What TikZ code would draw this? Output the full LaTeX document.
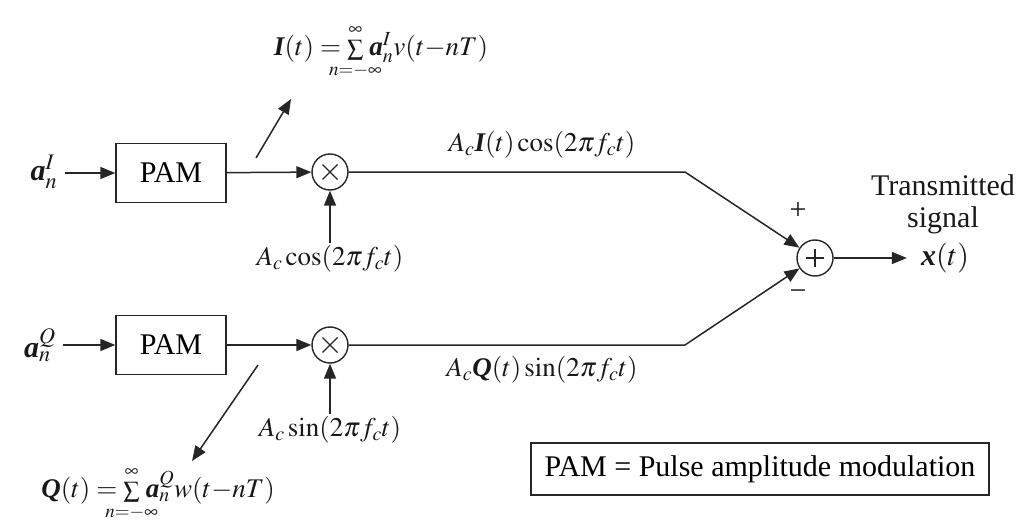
\documentclass[tikz,border=0pt]{standalone}
\usepackage{amsmath}
\usepackage{mathptmx}
\usepackage[no-math]{fontspec}
\setmainfont{Liberation Serif}
\usetikzlibrary{arrows.meta}
\newcommand{\bi}[1]{\mbox{\bfseries\itshape #1}}
\newcommand{\smallsum}{\mathop{\mbox{\fontsize{23}{24}\selectfont$\textstyle\sum$}}\limits}
\newcommand{\lowlim}{\makebox[0pt]{\fontsize{19}{20}\selectfont$n{=}{-}\infty$}}
\newcommand{\uplim}{\makebox[0pt]{\fontsize{19}{20}\selectfont$\infty$}}
\tikzset{
  ln/.style={line width=1.5pt, draw=black!85},
  arr/.style={ln, -{Triangle[length=15pt,width=12pt]}},
  block/.style={draw=black!85, line width=1.4pt, minimum width=110pt, minimum height=59pt, inner sep=0pt},
  mixer/.style={draw=black!85, line width=1.4pt, circle, minimum size=36pt, inner sep=0pt},
  timesmark/.style={path picture={\draw[line width=1.1pt,black!85] ([shift={(-7.5pt,-7.5pt)}]path picture bounding box.center) -- ([shift={(7.5pt,7.5pt)}]path picture bounding box.center);
    \draw[line width=1.1pt,black!85] ([shift={(-7.5pt,7.5pt)}]path picture bounding box.center) -- ([shift={(7.5pt,-7.5pt)}]path picture bounding box.center);}},
  plusmark/.style={path picture={\draw[line width=1.1pt,black!85] ([xshift=-9pt]path picture bounding box.center) -- ([xshift=9pt]path picture bounding box.center);
    \draw[line width=1.1pt,black!85] ([yshift=-9pt]path picture bounding box.center) -- ([yshift=9pt]path picture bounding box.center);}},
  lab/.style={inner sep=2pt, text=black!90},
  mlab/.style={lab, font=\fontsize{27}{30}\selectfont}
}
\begin{document}
\begin{tikzpicture}[x=1pt,y=-1pt,font=\fontsize{30}{36}\selectfont]
\useasboundingbox (0,0) rectangle (1021,527);
% upper branch
\node[lab] (aI) at (44,172) {$\bi{a}_n^{I}$};
\node[block] (pamI) at (171,173) {PAM};
\node[mixer,timesmark] (mI) at (330,172) {};
\node[mlab] (cosl) at (330,259) {$A_c\cos(2\pi f_c t)$};
\node[mlab] (fI) at (381,52) {$\bi{I}(t) = \smallsum_{\lowlim}^{\uplim}\, \bi{a}_n^{I} v(t\mathord{-}nT)$};
\coordinate (dI1) at (256,158);
\coordinate (dI2) at (291,99);
\coordinate (kI) at (685,172);
\node[mlab] (pI) at (542,145) {$A_c\bi{I}(t)\cos(2\pi f_c t)$};
% lower branch
\node[lab] (aQ) at (40,345) {$\bi{a}_n^{Q}$};
\node[block] (pamQ) at (171,345) {PAM};
\node[mixer,timesmark] (mQ) at (330,345) {};
\node[mlab] (sinl) at (330,430) {$A_c\sin(2\pi f_c t)$};
\node[mlab] (fQ) at (158,494) {$\bi{Q}(t) = \smallsum_{\lowlim}^{\uplim}\, \bi{a}_n^{Q} w(t\mathord{-}nT)$};
\coordinate (dQ1) at (258,365);
\coordinate (dQ2) at (192,461);
\coordinate (kQ) at (685,345);
\node[mlab] (pQ) at (542,370) {$A_c\bi{Q}(t)\sin(2\pi f_c t)$};
% summer
\node[mixer,plusmark] (sum) at (815,258) {};
\node[lab] at (798,211) {+};
\node[lab] at (798,295) {\textminus};
\node[lab,inner sep=0pt] (xt) at (945,258) {$\bi{x}(t)$};
\node[lab] (tr) at (943,185) {Transmitted};
\node[lab] (sg) at (943,220) {signal};
% legend
\node[draw=black!85, line width=1.2pt, minimum width=458pt, minimum height=52pt, inner sep=0pt] (leg) at (760,469) {PAM = Pulse amplitude modulation};
% connectors
\draw[arr, shorten <=5pt] (aI.east |- pamI.west) -- (pamI.west);
\draw[arr] (pamI) -- (mI);
\draw[arr] (cosl) -- (mI);
\draw[arr] (dI1) -- (dI2);
\draw[arr] (mI) -- (kI) -- (sum);
\draw[arr, shorten <=5pt] (aQ.east |- pamQ.west) -- (pamQ.west);
\draw[arr] (pamQ) -- (mQ);
\draw[arr] (sinl) -- (mQ);
\draw[arr] (dQ1) -- (dQ2);
\draw[arr] (mQ) -- (kQ) -- (sum);
\draw[arr, shorten >=14pt] (sum) -- (xt.west);
\end{tikzpicture}
\end{document}
